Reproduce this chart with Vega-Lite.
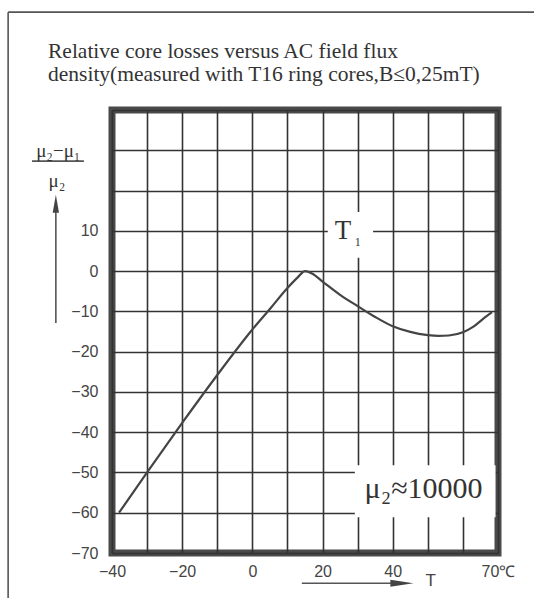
{
  "$schema": "https://vega.github.io/schema/vega-lite/v6.json",
  "autosize": "none",
  "padding": {"left": 112, "top": 110, "right": 36, "bottom": 45},
  "width": 386,
  "height": 443,
  "background": "white",
  "title": {
    "text": ["Relative core losses versus AC field flux", "density(measured with T16 ring cores,B≤0,25mT)"],
    "anchor": "start",
    "frame": "group",
    "font": "Liberation Serif",
    "fontSize": 21.5,
    "fontWeight": "normal",
    "color": "#333",
    "dx": -64,
    "offset": -74,
    "lineHeight": 23
  },
  "config": {
    "view": {"stroke": "#4a4a4a", "strokeWidth": 7},
    "axis": {"domain": false, "ticks": false, "grid": true, "gridColor": "#333", "gridWidth": 1.6, "gridOpacity": 1, "labelFont": "Liberation Sans", "labelFontSize": 16, "labelColor": "#444", "title": null, "labelOverlap": false, "tickCount": 30}
  },
  "datasets": {
    "curve": [
      {"t": -38, "v": -60}, {"t": -30, "v": -50}, {"t": -20, "v": -37.7}, {"t": -10, "v": -25.8},
      {"t": 0, "v": -14.5}, {"t": 5, "v": -9.4}, {"t": 10, "v": -4.2}, {"t": 13, "v": -1.5},
      {"t": 15, "v": 0}, {"t": 17, "v": -0.6}, {"t": 20, "v": -2.6}, {"t": 25, "v": -5.9},
      {"t": 30, "v": -8.7}, {"t": 35, "v": -11.4}, {"t": 40, "v": -13.7}, {"t": 45, "v": -15.1},
      {"t": 50, "v": -15.9}, {"t": 53, "v": -16.1}, {"t": 56, "v": -16}, {"t": 60, "v": -15.2},
      {"t": 63, "v": -13.8}, {"t": 66, "v": -11.7}, {"t": 68.3, "v": -10.2}
    ],
    "masks": [
      {"x1": 21.5, "x2": 34.4, "y1": 3.3, "y2": 14.7},
      {"x1": 29.2, "x2": 69.3, "y1": -61.1, "y2": -48.2}
    ],
    "borders": [
      {"x1": -69.6, "x2": -69.6, "y1": 64.3, "y2": -81.2},
      {"x1": -69.6, "x2": 80.3, "y1": 64.3, "y2": 64.3},
      {"x1": -62.8, "x2": -48.0, "y1": 27.3, "y2": 27.3},
      {"x1": -56, "x2": -56, "y1": -12.9, "y2": 16},
      {"x1": 14.1, "x2": 42, "y1": -77.5, "y2": -77.5}
    ]
  },
  "layer": [
    {
      "data": {"name": "masks"},
      "mark": {"type": "rect", "fill": "white", "stroke": null},
      "encoding": {
        "x": {"field": "x1", "type": "quantitative", "scale": {"domain": [-40, 70], "nice": false, "zero": false},
          "axis": {"values": [-40, -30, -20, -10, 0, 10, 20, 30, 40, 50, 60, 69.999], "labelExpr": "datum.value > 69 ? '70℃' : ((datum.value % 20 == 0 && datum.value < 50) ? datum.label : '')", "labelPadding": 10, "labelFlush": false, "tickCount": 30}},
        "x2": {"field": "x2"},
        "y": {"field": "y1", "type": "quantitative", "scale": {"domain": [-70, 40], "nice": false, "zero": false},
          "axis": {"values": [-70, -60, -50, -40, -30, -20, -10, 0, 10, 20, 30, 39.999], "labelExpr": "datum.value > 10 ? '' : datum.label", "labelPadding": 14, "labelFlush": false, "tickCount": 30}},
        "y2": {"field": "y2"}
      }
    },
    {
      "data": {"name": "curve"},
      "mark": {"type": "line", "color": "#444", "strokeWidth": 2.2, "interpolate": "monotone"},
      "encoding": {
        "x": {"field": "t", "type": "quantitative"},
        "y": {"field": "v", "type": "quantitative"}
      }
    },
    {
      "data": {"name": "borders"},
      "mark": {"type": "rule", "color": "#555", "strokeWidth": 1.6, "clip": false},
      "encoding": {
        "x": {"field": "x1", "type": "quantitative"},
        "x2": {"field": "x2"},
        "y": {"field": "y1", "type": "quantitative"},
        "y2": {"field": "y2"}
      }
    },
    {
      "data": {"values": [{"x": -56, "y": 16.7}]},
      "mark": {"type": "point", "shape": "M0,-1L0.35,1L-0.35,1Z", "size": 324, "filled": true, "color": "#444", "opacity": 1},
      "encoding": {"x": {"field": "x", "type": "quantitative"}, "y": {"field": "y", "type": "quantitative"}}
    },
    {
      "data": {"values": [{"x": 42.6, "y": -77.5}]},
      "mark": {"type": "point", "shape": "M1,0L-1,-0.3L-1,0.3Z", "size": 529, "filled": true, "color": "#444", "opacity": 1},
      "encoding": {"x": {"field": "x", "type": "quantitative"}, "y": {"field": "y", "type": "quantitative"}}
    },
    {
      "data": {"values": [{"x": 50.8, "y": -76.9, "label": "T"}]},
      "mark": {"type": "text", "font": "Liberation Sans", "fontSize": 17, "color": "#444", "align": "center", "baseline": "middle"},
      "encoding": {"x": {"field": "x", "type": "quantitative"}, "y": {"field": "y", "type": "quantitative"}, "text": {"field": "label"}}
    },
    {
      "data": {"values": [{"x": -55.3, "y": 29.8, "label": "μ₂−μ₁"}, {"x": -55.7, "y": 22.4, "label": "μ₂"}]},
      "mark": {"type": "text", "font": "Liberation Serif", "fontSize": 19, "color": "#333", "align": "center", "baseline": "middle"},
      "encoding": {"x": {"field": "x", "type": "quantitative"}, "y": {"field": "y", "type": "quantitative"}, "text": {"field": "label"}}
    },
    {
      "data": {"values": [{"x": 25.8, "y": 10, "label": "T"}]},
      "mark": {"type": "text", "font": "Liberation Serif", "fontSize": 27, "color": "#333", "align": "center", "baseline": "middle"},
      "encoding": {"x": {"field": "x", "type": "quantitative"}, "y": {"field": "y", "type": "quantitative"}, "text": {"field": "label"}}
    },
    {
      "data": {"values": [{"x": 30, "y": 7.2, "label": "1"}]},
      "mark": {"type": "text", "font": "Liberation Serif", "fontSize": 12, "color": "#333", "align": "center", "baseline": "middle"},
      "encoding": {"x": {"field": "x", "type": "quantitative"}, "y": {"field": "y", "type": "quantitative"}, "text": {"field": "label"}}
    },
    {
      "data": {"values": [{"x": 48.8, "y": -54.1, "label": "μ₂≈10000"}]},
      "mark": {"type": "text", "font": "Liberation Serif", "fontSize": 30, "color": "#333", "align": "center", "baseline": "middle"},
      "encoding": {"x": {"field": "x", "type": "quantitative"}, "y": {"field": "y", "type": "quantitative"}, "text": {"field": "label"}}
    }
  ]
}
